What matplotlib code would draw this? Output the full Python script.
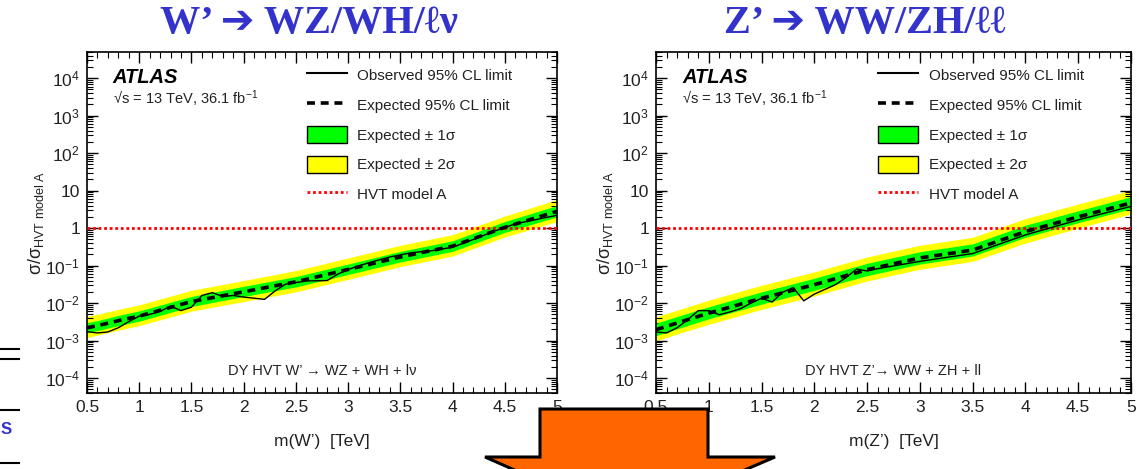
import matplotlib
matplotlib.use("Agg")
import matplotlib.pyplot as plt
from matplotlib.lines import Line2D
from matplotlib.patches import Patch, Polygon
from matplotlib.ticker import FixedLocator, FuncFormatter, MultipleLocator, LogLocator, NullFormatter

plt.rcParams["font.family"] = ["Liberation Sans", "DejaVu Sans"]
plt.rcParams["mathtext.fontset"] = "custom"
plt.rcParams["mathtext.rm"] = "Liberation Sans"
plt.rcParams["mathtext.it"] = "Liberation Sans:italic"
plt.rcParams["mathtext.bf"] = "Liberation Sans:bold"

# ---- W' -> WZ/WH/lv ----
w_exp_m = [0.5, 0.6, 0.8, 1.0, 1.5, 2.0, 2.5, 3.0, 3.5, 4.0, 4.5, 5.0]
w_exp = [2.2e-3, 2.5e-3, 3.4e-3, 4.5e-3, 1.1e-2, 2.0e-2, 3.7e-2, 7.9e-2, 0.17, 0.33, 1.05, 2.8]
w_s1_hi = [3.0e-3, 3.4e-3, 4.7e-3, 6.2e-3, 1.5e-2, 2.8e-2, 5.1e-2, 0.11, 0.24, 0.46, 1.5, 4.0]
w_s1_lo = [1.6e-3, 1.85e-3, 2.5e-3, 3.3e-3, 8.1e-3, 1.5e-2, 2.7e-2, 5.8e-2, 0.125, 0.24, 0.77, 2.0]
w_s2_hi = [4.4e-3, 5.0e-3, 6.8e-3, 9.0e-3, 2.2e-2, 4.0e-2, 7.4e-2, 0.16, 0.35, 0.67, 2.1, 5.8]
w_s2_lo = [1.2e-3, 1.4e-3, 1.9e-3, 2.5e-3, 6.1e-3, 1.1e-2, 2.0e-2, 4.3e-2, 0.094, 0.18, 0.58, 1.5]
w_obs_m = [0.5, 0.6, 0.7, 0.8, 0.9, 1.0, 1.1, 1.2, 1.3, 1.4, 1.5, 1.6, 1.7, 1.8, 1.9, 2.0,
           2.2, 2.3, 2.4, 2.6, 2.8, 2.9, 3.0, 3.2, 3.4, 3.6, 3.8, 4.0, 4.2, 4.4, 4.6, 4.8, 5.0]
w_obs = [1.74e-3, 1.6e-3, 1.7e-3, 2.2e-3, 3.2e-3, 4.5e-3, 5.0e-3, 6.0e-3, 8.3e-3, 6.3e-3,
         7.8e-3, 1.6e-2, 1.9e-2, 1.5e-2, 1.6e-2, 1.45e-2, 1.26e-2, 2.1e-2, 3.2e-2, 3.9e-2,
         4.0e-2, 5.9e-2, 7.9e-2, 0.12, 0.17, 0.22, 0.25, 0.31, 0.5, 0.83, 1.3, 1.7, 2.2]

# ---- Z' -> WW/ZH/ll ----
z_exp_m = [0.5, 0.7, 1.0, 1.5, 2.0, 2.5, 3.0, 3.5, 4.0, 4.5, 5.0]
z_exp = [1.95e-3, 2.95e-3, 5.4e-3, 1.35e-2, 3.1e-2, 7.8e-2, 0.16, 0.26, 0.81, 2.0, 4.7]
z_s1_hi = [2.9e-3, 4.4e-3, 8.0e-3, 2.0e-2, 4.6e-2, 0.115, 0.235, 0.38, 1.2, 2.9, 6.9]
z_s1_lo = [1.35e-3, 2.05e-3, 3.8e-3, 9.4e-3, 2.2e-2, 5.4e-2, 0.11, 0.18, 0.57, 1.4, 3.3]
z_s2_hi = [4.3e-3, 6.5e-3, 1.2e-2, 3.0e-2, 6.8e-2, 0.17, 0.35, 0.57, 1.8, 4.4, 10.3]
z_s2_lo = [9.8e-4, 1.5e-3, 2.7e-3, 6.8e-3, 1.55e-2, 3.9e-2, 8.0e-2, 0.13, 0.4, 1.0, 2.4]
z_obs_m = [0.5, 0.6, 0.7, 0.8, 0.9, 1.0, 1.1, 1.2, 1.3, 1.4, 1.5, 1.6, 1.7, 1.8, 1.9, 2.0,
           2.2, 2.3, 2.4, 2.5, 2.6, 3.0, 3.5, 4.0, 4.5, 5.0]
z_obs = [1.7e-3, 1.6e-3, 2.2e-3, 3.6e-3, 6.3e-3, 6.3e-3, 4.9e-3, 5.8e-3, 7.1e-3, 1.0e-2,
         1.35e-2, 1.07e-2, 1.95e-2, 2.6e-2, 1.15e-2, 1.74e-2, 3.1e-2, 4.8e-2, 8.1e-2,
         7.2e-2, 8.3e-2, 0.13, 0.21, 0.66, 1.66, 3.8]

y_ticks = [1e-4, 1e-3, 1e-2, 1e-1, 1, 10, 1e2, 1e3, 1e4]
y_labels = [r"$10^{-4}$", r"$10^{-3}$", r"$10^{-2}$", r"$10^{-1}$", "1", "10",
            r"$10^{2}$", r"$10^{3}$", r"$10^{4}$"]
titles = ["W\u2019 \u2794 WZ/WH/\u2113\u03bd", "Z\u2019 \u2794 WW/ZH/\u2113\u2113"]
channel = ["DY HVT W\u2019 \u2192 WZ + WH + l\u03bd", "DY HVT Z\u2019\u2192 WW + ZH + ll"]
xlabels = ["m(W\u2019)  [TeV]", "m(Z\u2019)  [TeV]"]

W, H = 1144, 469
fig = plt.figure(figsize=(W / 100, H / 100), dpi=100)
fig.patch.set_facecolor("white")

panels = [
    (w_exp_m, w_exp, w_s1_lo, w_s1_hi, w_s2_lo, w_s2_hi, w_obs_m, w_obs),
    (z_exp_m, z_exp, z_s1_lo, z_s1_hi, z_s2_lo, z_s2_hi, z_obs_m, z_obs),
]
left_px = [87, 656]
right_px = [557, 1131]
top_px, bot_px = 52, 393
title_x = [309, 865]

for i, (em, ev, s1l, s1h, s2l, s2h, om, ov) in enumerate(panels):
    ax = fig.add_axes([left_px[i] / W, 1 - bot_px / H,
                       (right_px[i] - left_px[i]) / W, (bot_px - top_px) / H])
    ax.fill_between(em, s2l, s2h, color="#ffff00", lw=0, zorder=1)
    ax.fill_between(em, s1l, s1h, color="#00ff00", lw=0, zorder=2)
    ax.plot(em, ev, color="black", lw=2.6, ls=(0, (2.2, 1.6)), zorder=4)
    ax.plot(om, ov, color="black", lw=1.0, zorder=5)
    ax.axhline(1, color="red", lw=2.0, ls=(0, (1, 1)), zorder=3)

    ax.set_yscale("log")
    ax.set_xlim(0.5, 5)
    ax.set_ylim(4e-5, 5e4)
    ax.yaxis.set_major_locator(FixedLocator(y_ticks))
    ax.set_yticklabels(y_labels)
    ax.yaxis.set_minor_locator(LogLocator(base=10, subs=range(2, 10), numticks=20))
    ax.yaxis.set_minor_formatter(NullFormatter())
    ax.xaxis.set_major_locator(MultipleLocator(0.5))
    ax.xaxis.set_minor_locator(MultipleLocator(0.1))
    ax.xaxis.set_major_formatter(FuncFormatter(lambda v, p: f"{v:g}"))
    ax.tick_params(which="both", direction="in", top=True, right=True,
                   labelsize=12.5, colors="black", labelcolor="#222222")
    ax.tick_params(which="major", length=8, width=1.0, pad=5)
    ax.tick_params(which="minor", length=4, width=0.8)
    for s in ax.spines.values():
        s.set_linewidth(1.2)

    ax.set_xlabel(xlabels[i], fontsize=12.5, labelpad=14, color="#222222")
    ax.set_ylabel("\u03c3/\u03c3$_{\\mathrm{HVT\\ model\\ A}}$", fontsize=13,
                  labelpad=-1, color="#222222")

    ax.text(0.055, 0.925, "ATLAS", transform=ax.transAxes, fontsize=14.5,
            fontweight="bold", style="italic", va="center")
    ax.text(0.055, 0.862, "\u221as = 13 TeV, 36.1 fb$^{\\mathrm{-1}}$",
            transform=ax.transAxes, fontsize=10.5, va="center", color="#222222")
    ax.text(0.5, 0.065, channel[i], transform=ax.transAxes, fontsize=10.5,
            ha="center", va="center", color="#222222")

    handles = [
        Line2D([], [], color="black", lw=1.5),
        Line2D([], [], color="black", lw=2.6, ls=(0, (2.2, 1.6))),
        Patch(facecolor="#00ff00", edgecolor="black", lw=1),
        Patch(facecolor="#ffff00", edgecolor="black", lw=1),
        Line2D([], [], color="red", lw=2.0, ls=(0, (1, 1))),
    ]
    labels = ["Observed 95% CL limit", "Expected 95% CL limit",
              "Expected \u00b1 1\u03c3", "Expected \u00b1 2\u03c3", "HVT model A"]
    leg = ax.legend(handles, labels, loc="upper left", bbox_to_anchor=(0.455, 0.975),
                    frameon=False, fontsize=11, handlelength=2.6, handleheight=1.35,
                    labelspacing=0.82, handletextpad=0.7, borderaxespad=0)
    for t in leg.get_texts():
        t.set_color("#222222")

    fig.text(title_x[i] / W, 1 - 24 / H, titles[i], ha="center", va="center",
             fontsize=29, fontweight="bold", color="#3333cc",
             family=["Liberation Serif", "DejaVu Sans"])

# orange block arrow at the bottom of the slide
arrow_px = [(540, 409), (708, 409), (708, 457), (775, 457), (628, 520), (485, 457), (540, 457)]
arrow = Polygon([(x / W, 1 - y / H) for x, y in arrow_px], closed=True,
                transform=fig.transFigure, facecolor="#ff6600", edgecolor="black",
                lw=2.2, zorder=10)
fig.add_artist(arrow)

# slide leftovers at the left edge
for y in [349, 359, 410, 463]:
    fig.add_artist(Line2D([0, 19 / W], [1 - y / H, 1 - y / H], color="black", lw=1.5,
                          transform=fig.transFigure))
fig.text(1 / W, 1 - 429 / H, "S", color="#3333cc", fontsize=12, fontweight="bold",
         ha="left", va="center")

fig.savefig("out.png", dpi=100, facecolor="white")
